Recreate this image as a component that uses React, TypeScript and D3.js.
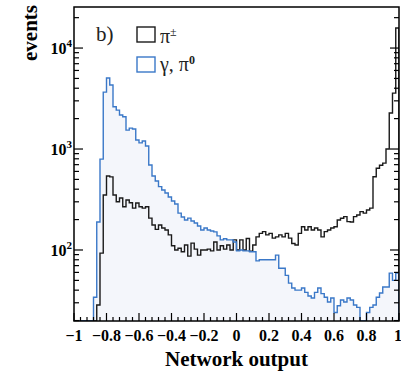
import React from "react";
import * as d3 from "d3";

// Histogram: 100 bins over [-1, 1]
const binLow = -1;
const binHigh = 1;
const nBins = 100;

// pi± (black)
const pionCharged = [
  0, 0, 0, 0, 0, 0, 0, 28.5, 93, 351,
  541, 530, 351, 300, 327, 268, 313, 294, 260, 292,
  268, 260, 268, 207, 177, 160, 177, 165, 158, 141,
  110, 100, 104, 96, 112, 87, 117, 102, 89, 100,
  100, 102, 98, 120, 100, 110, 102, 112, 100, 126,
  100, 126, 100, 130, 97, 112, 135, 146, 152, 141,
  146, 131, 135, 141, 135, 146, 131, 116, 112, 146,
  170, 158, 170, 158, 165, 158, 135, 152, 158, 165,
  170, 198, 206, 214, 191, 189, 214, 222, 240, 232,
  249, 260, 532, 645, 690, 725, 1000, 2270, 3580, 15800,
];

// gamma, pi0 (blue)
const gammaPi0 = [
  0, 0, 0, 0, 0, 0, 34, 189, 795, 3660,
  5050, 4300, 2620, 2430, 2170, 2090, 1540, 1610, 1580, 1230,
  1150, 1200, 1070, 695, 541, 482, 424, 393, 367, 335,
  306, 285, 232, 212, 198, 207, 194, 185, 173, 158,
  165, 158, 154, 151, 138, 126, 129, 126, 126, 120,
  98, 100, 98, 98, 96, 96, 78, 80, 80, 80,
  80, 80, 89, 66, 66, 56, 47, 42, 40, 40,
  42, 38, 35, 33.5, 38, 42, 37, 34, 30.5, 33.5,
  24, 28, 32, 30.5, 33.5, 32, 28.5, 27, 15, 17,
  24, 27, 28.5, 34, 37.5, 43, 43, 59, 50, 59,
];

const xMajorTicks = [-1, -0.8, -0.6, -0.4, -0.2, 0, 0.2, 0.4, 0.6, 0.8, 1];
const xTickLabels = ["\u22121", "\u22120.8", "\u22120.6", "\u22120.4", "\u22120.2", "0", "0.2", "0.4", "0.6", "0.8", "1"];
const yMajorTicks = [100, 1000, 10000];
const yMajorExp = ["2", "3", "4"];
const yDomain = [19.8, 25500];

const W = 401;
const H = 372;
const left = 74;
const right = 399;
const top = 7;
const bottom = 321;

const serif = "'Liberation Serif', 'DejaVu Serif', serif";

export default function App() {
  const x = d3.scaleLinear().domain([binLow, binHigh]).range([left, right]);
  const y = d3.scaleLog().domain(yDomain).range([bottom, top]);
  const bw = (binHigh - binLow) / nBins;

  const clampY = (v: number) => {
    const c = Math.max(yDomain[0], Math.min(yDomain[1], v > 0 ? v : yDomain[0]));
    return y(c);
  };

  const stepPath = (vals: number[]) => {
    let d = `M${x(binLow)},${bottom}`;
    vals.forEach((v, i) => {
      const x0 = x(binLow + i * bw);
      const x1 = x(binLow + (i + 1) * bw);
      const yy = clampY(v);
      d += `L${x0},${yy}L${x1},${yy}`;
    });
    d += `L${x(binHigh)},${bottom}`;
    return d;
  };

  const blueFill = stepPath(gammaPi0) + "Z";
  const bluePath = stepPath(gammaPi0);
  const blackPath = stepPath(pionCharged);

  // x minor ticks every 0.04
  const xMinor: number[] = [];
  for (let i = 0; i <= 50; i++) {
    const v = -1 + i * 0.04;
    if (i % 5 !== 0) xMinor.push(v);
  }
  // y minor ticks
  const yMinor: number[] = [];
  [10, 100, 1000, 10000].forEach((dec) => {
    for (let m = 2; m <= 9; m++) {
      const v = dec * m;
      if (v >= yDomain[0] && v <= yDomain[1]) yMinor.push(v);
    }
  });

  const blue = "#3a78c8";
  const black = "#1a1a1a";

  return (
    <svg
      width={W}
      height={H}
      style={{ position: "absolute", left: 0, top: 0, background: "#fff" }}
    >
      <rect x={0} y={0} width={W} height={H} fill="#fff" />
      <clipPath id="plotclip">
        <rect x={left} y={top} width={right - left} height={bottom - top} />
      </clipPath>
      <g clipPath="url(#plotclip)">
        <path d={blueFill} fill="#f4f6fb" stroke="none" />
        <path d={blackPath} fill="none" stroke={black} strokeWidth={1.4} />
        <path d={bluePath} fill="none" stroke={blue} strokeWidth={1.4} />
      </g>

      {/* frame */}
      <rect x={left} y={top} width={right - left} height={bottom - top} fill="none" stroke="#000" strokeWidth={1.5} />

      {/* x ticks */}
      {xMajorTicks.map((t) => (
        <line key={"xM" + t} x1={x(t)} x2={x(t)} y1={bottom} y2={bottom - 8} stroke="#000" strokeWidth={1.2} />
      ))}
      {xMinor.map((t, i) => (
        <line key={"xm" + i} x1={x(t)} x2={x(t)} y1={bottom} y2={bottom - 4} stroke="#000" strokeWidth={1.2} />
      ))}
      {xMajorTicks.map((t, i) => (
        <text
          key={"xl" + t}
          x={i === xMajorTicks.length - 1 ? x(t) - 1 : x(t)}
          y={341}
          textAnchor="middle"
          fontFamily={serif}
          fontWeight="bold"
          fontSize={16}
          fill="#000"
        >
          {xTickLabels[i]}
        </text>
      ))}

      {/* y ticks left and right */}
      {yMajorTicks.map((t) => (
        <g key={"yM" + t}>
          <line x1={left} x2={left + 9} y1={y(t)} y2={y(t)} stroke="#000" strokeWidth={1.2} />
          <line x1={right} x2={right - 9} y1={y(t)} y2={y(t)} stroke="#000" strokeWidth={1.2} />
        </g>
      ))}
      {yMinor.map((t, i) => (
        <g key={"ym" + i}>
          <line x1={left} x2={left + 5} y1={y(t)} y2={y(t)} stroke="#000" strokeWidth={1.2} />
          <line x1={right} x2={right - 5} y1={y(t)} y2={y(t)} stroke="#000" strokeWidth={1.2} />
        </g>
      ))}
      {yMajorTicks.map((t, i) => (
        <text
          key={"yl" + t}
          x={72}
          y={y(t) + 6}
          textAnchor="end"
          fontFamily={serif}
          fontWeight="bold"
          fontSize={16}
          fill="#000"
        >
          10
          <tspan fontSize={11} dy={-7}>
            {yMajorExp[i]}
          </tspan>
        </text>
      ))}

      {/* axis titles */}
      <text
        x={(left + right) / 2}
        y={366}
        textAnchor="middle"
        fontFamily={serif}
        fontWeight="bold"
        fontSize={21}
        fill="#000"
      >
        Network output
      </text>
      <text
        transform="translate(37,5) rotate(-90)"
        textAnchor="end"
        fontFamily={serif}
        fontWeight="bold"
        fontSize={21}
        fill="#000"
      >
        events
      </text>

      {/* legend */}
      <text x={96} y={41} fontFamily={serif} fontSize={21} fill="#222">
        b)
      </text>
      <rect x={137} y={27} width={18} height={15} fill="#fff" stroke={black} strokeWidth={1.4} />
      <rect x={137} y={57} width={18} height={15} fill="#fff" stroke={blue} strokeWidth={1.4} />
      <text x={160} y={43} fontFamily={serif} fontSize={20} fill="#222">
        π
        <tspan fontSize={12} dy={-7}>
          ±
        </tspan>
      </text>
      <text x={160} y={71} fontFamily={serif} fontSize={20} fill="#222">
        γ, π
        <tspan fontSize={12} fontWeight="bold" dy={-7}>
          0
        </tspan>
      </text>
    </svg>
  );
}
